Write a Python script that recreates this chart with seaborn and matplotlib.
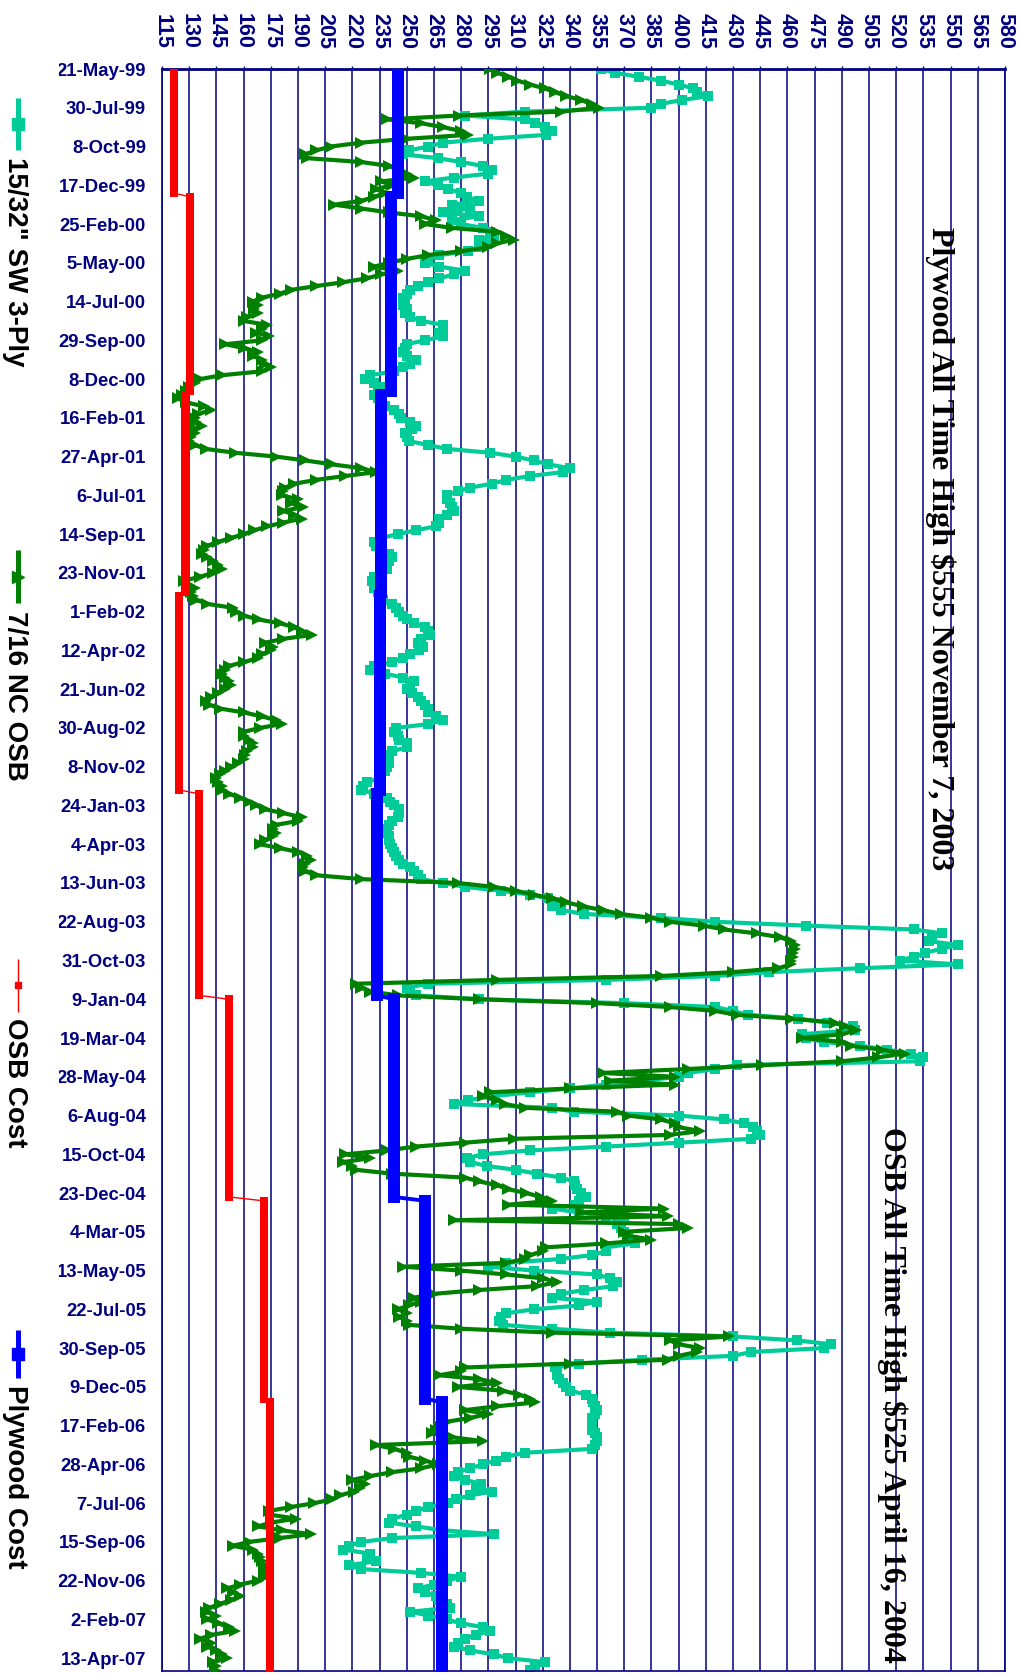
import numpy as np
import pandas as pd
import matplotlib
matplotlib.use("Agg")
import matplotlib.pyplot as plt
from matplotlib.lines import Line2D
from matplotlib.patches import Rectangle
import seaborn as sns

# Date labels, one every ten weekly observations
week_labels = [
    "21-May-99", "30-Jul-99", "8-Oct-99", "17-Dec-99", "25-Feb-00", "5-May-00",
    "14-Jul-00", "29-Sep-00", "8-Dec-00", "16-Feb-01", "27-Apr-01", "6-Jul-01",
    "14-Sep-01", "23-Nov-01", "1-Feb-02", "12-Apr-02", "21-Jun-02", "30-Aug-02",
    "8-Nov-02", "24-Jan-03", "4-Apr-03", "13-Jun-03", "22-Aug-03", "31-Oct-03",
    "9-Jan-04", "19-Mar-04", "28-May-04", "6-Aug-04", "15-Oct-04", "23-Dec-04",
    "4-Mar-05", "13-May-05", "22-Jul-05", "30-Sep-05", "9-Dec-05", "17-Feb-06",
    "28-Apr-06", "7-Jul-06", "15-Sep-06", "22-Nov-06", "2-Feb-07", "13-Apr-07",
]

# 15/32" SW 3-Ply plywood, $/MSF, weekly
plywood_prices = [
    357, 365, 378, 390, 400, 408, 410, 416, 402, 390,
    385, 315, 282, 315, 321, 326, 330, 327, 295, 270,
    262, 251, 248, 267, 280, 292, 297, 295, 276, 260,
    267, 273, 280, 283, 290, 275, 285, 270, 290, 275,
    280, 292, 296, 298, 290, 295, 290, 284, 268, 262,
    260, 268, 282, 276, 268, 262, 256, 252, 250, 248,
    249, 248, 250, 249, 252, 258, 270, 270, 268, 270,
    260, 250, 249, 248, 250, 255, 252, 248, 243, 230,
    227, 232, 235, 234, 232, 234, 235, 238, 243, 246,
    247, 252, 255, 253, 249, 250, 251, 262, 272, 296,
    310, 320, 328, 340, 336, 318, 305, 297, 285, 278,
    272, 272, 274, 275, 276, 272, 268, 268, 266, 255,
    245, 236, 232, 233, 236, 240, 242, 240, 238, 239,
    236, 232, 231, 234, 232, 234, 235, 237, 242, 244,
    246, 248, 250, 254, 260, 262, 263, 258, 256, 259,
    257, 252, 248, 242, 232, 230, 238, 248, 254, 252,
    250, 253, 256, 258, 260, 262, 262, 266, 270, 262,
    244, 243, 245, 246, 250, 250, 242, 240, 238, 240,
    239, 238, 236, 235, 228, 226, 225, 232, 239, 241,
    243, 246, 246, 245, 242, 240, 239, 239, 240, 240,
    241, 242, 243, 244, 246, 248, 252, 254, 256, 258,
    270, 282, 302, 318, 328, 333, 330, 335, 348, 390,
    420, 470, 530, 545, 540, 538, 554, 545, 536, 530,
    522, 554, 500, 450, 420, 360, 262, 250, 252, 255,
    290, 370, 420, 430, 438, 466, 482, 496, 497, 468,
    470, 480, 500, 515, 528, 535, 533, 432, 420, 405,
    400, 380, 360, 340, 318, 298, 284, 276, 330, 342,
    400, 425, 436, 441, 443, 445, 440, 400, 360, 318,
    292, 283, 285, 294, 310, 322, 335, 342, 343, 344,
    346, 349, 345, 343, 330, 345, 360, 370, 366, 368,
    370, 372, 375, 376, 360, 360, 352, 335, 305, 295,
    320, 355, 362, 366, 364, 348, 335, 330, 355, 345,
    320, 305, 302, 301, 303, 330, 362, 430, 465, 484,
    480, 440, 430, 380, 345, 332, 333, 333, 334, 336,
    338, 340, 349, 352, 353, 354, 355, 354, 352, 352,
    352, 352, 354, 355, 355, 354, 352, 315, 305, 299,
    292, 285, 278, 276, 282, 291, 288, 297, 285, 277,
    273, 262, 255, 250, 242, 240, 255, 270, 298, 242,
    225, 218, 215, 230, 228, 233, 218, 225, 258, 280,
    272, 265, 256, 260, 266, 268, 272, 274, 252, 262,
    272, 280, 292, 296, 288, 282, 278, 276, 285, 298,
    306, 326, 321, 318,
]

# 7/16 NC OSB, $/MSF, weekly
osb_prices = [
    296, 300, 306, 311, 318, 326, 332, 338, 346, 352,
    356, 335, 279, 239, 258, 270, 280, 284, 250, 225,
    208, 200, 194, 195, 225, 240, 246, 250, 254, 236,
    242, 233, 238, 232, 225, 210, 225, 240, 258, 266,
    260, 275, 300, 305, 309, 300, 295, 280, 262, 250,
    240, 232, 245, 236, 228, 215, 200, 186, 180, 170,
    165, 168, 166, 168, 162, 160, 173, 170, 167, 174,
    170, 150, 160, 168, 165, 170, 172, 175, 170, 148,
    136, 133, 130, 128, 126, 124, 128, 138, 142, 135,
    133, 134, 137, 133, 133, 131, 130, 133, 139, 155,
    178, 194, 209, 225, 233, 216, 200, 188, 183, 182,
    181, 190, 186, 193, 182, 188, 192, 182, 173, 166,
    160, 153, 146, 140, 138, 137, 140, 143, 146, 148,
    143, 136, 127, 130, 133, 131, 132, 134, 140, 154,
    156, 160, 168, 180, 188, 192, 198, 182, 172, 176,
    175, 170, 168, 160, 152, 150, 148, 150, 152, 153,
    150, 146, 142, 139, 141, 147, 160, 170, 178, 181,
    169, 160, 160, 163, 165, 165, 162, 161, 160, 157,
    153, 150, 147, 145, 146, 148, 148, 152, 158, 163,
    167, 172, 182, 192, 190, 178, 176, 178, 176, 172,
    169, 180, 190, 195, 197, 194, 193, 194, 200, 225,
    278, 298, 310, 320, 330, 338, 347, 358, 368, 385,
    395, 414, 425, 443, 456, 462, 464, 464, 463, 463,
    462, 462, 455, 430, 390, 300, 222, 225, 230, 245,
    290, 355, 395, 420, 432, 462, 486, 492, 498, 490,
    468, 490, 495, 512, 525, 510, 490, 446, 405, 358,
    398, 362, 398, 340, 296, 292, 300, 304, 315, 366,
    372, 390, 398, 400, 412, 395, 309, 282, 255, 239,
    216, 230, 215, 220, 222, 242, 282, 290, 300, 306,
    316, 324, 330, 306, 392, 346, 394, 276, 400, 405,
    370, 372, 385, 360, 327, 325, 318, 315, 305, 248,
    280, 305, 325, 333, 322, 290, 265, 254, 258, 251,
    245, 250, 246, 250, 251, 280, 330, 428, 395, 400,
    412, 410, 400, 394, 340, 282, 280, 268, 290, 300,
    278, 303, 312, 318, 321, 300, 282, 295, 285, 272,
    268, 266, 264, 275, 292, 233, 243, 250, 251, 260,
    267, 258, 242, 230, 220, 227, 224, 221, 213, 209,
    199, 186, 174, 175, 189, 175, 168, 181, 197, 180,
    163, 154, 165, 168, 169, 170, 171, 171, 171, 172,
    168, 158, 151, 154, 158, 153, 147, 141, 139, 145,
    140, 146, 152, 155, 142, 136, 142, 140, 145, 148,
    151, 143, 145, 144,
]

# Production cost levels: (first week index, $/MSF)
osb_cost_steps = [(0, 121.5), (33, 130.5), (84, 127.5), (136, 124.5),
                  (187, 135.5), (240, 152), (292, 171), (344, 174.5)]
plywood_cost_steps = [(0, 245), (33, 241.5), (84, 236), (136, 235),
                      (187, 233.5), (240, 243), (292, 260), (344, 269.5)]

price_ticks = list(range(115, 581, 15))

n_weeks = len(plywood_prices)


def expand_steps(steps, n):
    out = np.empty(n)
    for k, (start, level) in enumerate(steps):
        stop = steps[k + 1][0] if k + 1 < len(steps) else n
        out[start:stop] = level
    return out


df = pd.DataFrame({
    "week": np.arange(n_weeks),
    "plywood": plywood_prices,
    "osb": osb_prices,
    "osb_cost": expand_steps(osb_cost_steps, n_weeks),
    "plywood_cost": expand_steps(plywood_cost_steps, n_weeks),
})

NAVY = "#000080"
TEAL = "#00CC99"
GREEN = "#008000"
RED = "#FF0000"
BLUE = "#0000FF"

sns.set_style("white")
plt.rcParams["font.family"] = ["Liberation Sans", "DejaVu Sans"]

W, H = 1021, 1675
fig = plt.figure(figsize=(W / 100, H / 100), dpi=100)
ax = fig.add_axes([162 / W, 1 - 1671 / H, (1005 - 162) / W, (1671 - 69) / H])

series = [
    ("plywood", TEAL, "s", 7.5, 3.0, 2),
    ("osb", GREEN, ">", 9.0, 3.0, 3),
    ("osb_cost", RED, "s", 5.4, 1.0, 4),
    ("plywood_cost", BLUE, "s", 8.2, 2.8, 5),
]
for col, color, marker, ms, lw, z in series:
    sns.lineplot(data=df, x=col, y="week", sort=False, estimator=None,
                 color=color, marker=marker, markersize=ms,
                 markeredgecolor=color, markeredgewidth=0,
                 linewidth=lw, ax=ax, zorder=z)

ax.set_xlabel("")
ax.set_ylabel("")
ax.set_xlim(115, 580)
ax.set_ylim(n_weeks - 1 + 0.3, 0)

# price axis along the top
ax.set_xticks(price_ticks)
ax.set_xticklabels([str(v) for v in price_ticks], rotation=-90,
                   fontsize=15.5, fontweight="bold", color=NAVY)
ax.xaxis.tick_top()
ax.tick_params(axis="x", which="major", direction="out", length=2.2,
               width=1, color=NAVY, pad=12.5, top=True, bottom=False)

# date axis on the left, minor tick at every week
ax.set_yticks(range(0, n_weeks, 10))
ax.set_yticklabels(week_labels, fontsize=13.3, fontweight="bold", color=NAVY)
ax.set_yticks(range(n_weeks), minor=True)
ax.tick_params(axis="y", which="both", direction="out", length=4.5,
               width=1, color=NAVY, pad=7.0)

ax.grid(axis="x", color=NAVY, linewidth=1.1)
ax.grid(axis="y", visible=False)
ax.set_axisbelow(True)
for name, sp in ax.spines.items():
    sp.set_color(NAVY)
    sp.set_linewidth(1.2)
ax.spines["top"].set_linewidth(2.0)

# annotations
serif = ["Liberation Serif", "DejaVu Serif"]
fig.text(940 / W, 1 - 227 / H, "Plywood All Time High $555 November 7, 2003",
         rotation=-90, ha="center", va="top", fontsize=23,
         family=serif, fontweight="bold", color="black")
fig.text(892 / W, 1 - 1127 / H, "OSB All Time High $525 April 16, 2004",
         rotation=-90, ha="center", va="top", fontsize=23,
         family=serif, fontweight="bold", color="black")

# legend strip down the left edge
fig.add_artist(Rectangle((0, 0), 58.5 / W, 1, transform=fig.transFigure,
                         facecolor="white", edgecolor="none", zorder=5))

legend_items = [
    ('15/32" SW 3-Ply', TEAL, "s", 8, 3.6, 98, 150, 157),
    ("7/16 NC OSB", GREEN, ">", 9, 3.6, 550, 603, 611),
    ("OSB Cost", RED, "s", 4, 1.0, 959, 1012, 1018),
    ("Plywood Cost", BLUE, "s", 8, 3.6, 1330, 1378, 1385),
]
lx = 18 / W
for label, color, marker, ms, lw, y0, y1, ty in legend_items:
    ys = [1 - y0 / H, 1 - (y0 + y1) / 2 / H, 1 - y1 / H]
    fig.add_artist(Line2D([lx, lx, lx], ys, transform=fig.transFigure,
                          color=color, lw=lw, marker=marker, markersize=ms,
                          markevery=[1], markeredgecolor=color,
                          solid_capstyle="butt", zorder=6))
    fig.text(15 / W, 1 - ty / H, label, rotation=-90, ha="center", va="top",
             fontsize=20, fontweight="bold", color="black", zorder=7)

fig.savefig("out.png", dpi=100)
